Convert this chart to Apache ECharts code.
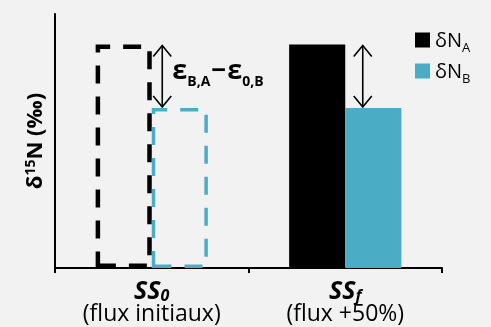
<!DOCTYPE html>
<html>
<head>
<meta charset="utf-8">
<script src="https://cdn.jsdelivr.net/npm/echarts@6/dist/echarts.min.js"></script>
<style>
html,body{margin:0;padding:0;background:#f2f2f2;}
#c{width:491px;height:327px;}
</style>
</head>
<body>
<div id="c"></div>
<script>
// ---- data ----
const categories = ['SS0', 'SSf'];
const catMain = ['SS', 'SS'];
const catSub = ['0', 'f'];
const catNote = ['(flux initiaux)', '(flux +50%)'];
const seriesNames = ['δN_A', 'δN_B'];
const valuesA = [88, 88];
const valuesB = [63, 63];
const dashedIndex = 0; // first category drawn as dashed outlines
const arrowLabels = ['ε_B,A − ε_0,B', ''];

// ---- style ----
const FONT = 'Open Sans';
const CYAN = '#4BACC6';
const arrowOffsets = [10.5, 17.5];

const chart = echarts.init(document.getElementById('c'), null, {renderer: 'canvas'});

function barData(vals, color, dash, width) {
  return vals.map((v, i) => i === dashedIndex ? {
    value: v,
    itemStyle: {color: 'rgba(0,0,0,0)', borderColor: color, borderWidth: width, borderType: dash}
  } : v);
}

function richLabel(s) {
  return s.split(' ').map(part => {
    if (part.indexOf('_') >= 0) {
      const p = part.split('_');
      return '{e|' + p[0] + '}{s|' + p[1] + '}';
    }
    return '{m|' + part + '}';
  }).join('');
}

const arrowData = categories.map((c, i) => [i, valuesA[i], valuesB[i]]);

const option = {
  backgroundColor: '#f2f2f2',
  animation: false,
  grid: {left: 55, right: 49, top: 14, bottom: 59},
  legend: {
    orient: 'vertical',
    left: 410,
    top: 26,
    itemWidth: 15,
    itemHeight: 15,
    itemGap: 7,
    icon: 'rect',
    data: [
      {name: seriesNames[0], itemStyle: {color: '#000', borderWidth: 0}},
      {name: seriesNames[1], itemStyle: {color: CYAN, borderWidth: 0}}
    ],
    formatter: n => { const p = n.split('_'); return '{m|' + p[0] + '}{s|' + p[1] + '}'; },
    textStyle: {
      fontFamily: FONT, fontSize: 20, color: '#000',
      rich: {
        m: {fontFamily: FONT, fontSize: 20, color: '#000', lineHeight: 18, verticalAlign: 'top'},
        s: {fontFamily: FONT, fontSize: 13, color: '#000', lineHeight: 12, verticalAlign: 'bottom', padding: [0, 0, -6, 0]}
      }
    }
  },
  xAxis: {
    type: 'category',
    data: categories,
    axisLine: {lineStyle: {color: '#000', width: 2}},
    axisTick: {show: true, length: 5, lineStyle: {color: '#000', width: 2}},
    axisLabel: {
      interval: 0,
      margin: 12,
      fontFamily: FONT,
      fontSize: 23,
      color: '#000',
      formatter: (v, i) => '{main|' + catMain[i] + '}{sub|' + catSub[i] + '}\n{note|' + catNote[i] + '}',
      rich: {
        main: {fontFamily: FONT, fontSize: 25, fontWeight: 'bold', fontStyle: 'italic', color: '#000', lineHeight: 24},
        sub: {fontFamily: FONT, fontSize: 16, fontWeight: 'bold', fontStyle: 'italic', color: '#000', lineHeight: 4, verticalAlign: 'bottom'},
        note: {fontFamily: FONT, fontSize: 23, color: '#000', lineHeight: 20}
      }
    }
  },
  yAxis: {
    type: 'value',
    min: 0,
    max: 100,
    axisLine: {show: true, lineStyle: {color: '#000', width: 2}},
    axisTick: {show: false},
    axisLabel: {show: false},
    splitLine: {show: false},
    name: '{a|δ}{s|15}{a|N (‰)}',
    nameLocation: 'middle',
    nameGap: 7,
    nameRotate: 90,
    nameTextStyle: {
      fontFamily: FONT, fontSize: 22, fontWeight: 'bold', color: '#000',
      rich: {
        a: {fontFamily: FONT, fontSize: 22, fontWeight: 'bold', color: '#000', lineHeight: 24},
        s: {fontFamily: FONT, fontSize: 14, fontWeight: 'bold', color: '#000', lineHeight: 14, verticalAlign: 'top'}
      }
    }
  },
  series: [
    {
      name: seriesNames[0],
      type: 'bar',
      barCategoryGap: '42%',
      barGap: '0%',
      itemStyle: {color: '#000'},
      data: barData(valuesA, '#000', [18, 13], 4.5)
    },
    {
      name: seriesNames[1],
      type: 'bar',
      barCategoryGap: '42%',
      barGap: '0%',
      itemStyle: {color: CYAN},
      data: barData(valuesB, CYAN, [18, 13], 3.5)
    },
    {
      type: 'custom',
      coordinateSystem: 'cartesian2d',
      encode: {x: 0, y: [1, 2]},
      silent: true,
      data: arrowData,
      renderItem: (params, api) => {
        const i = params.dataIndex;
        const pTop = api.coord([api.value(0), api.value(1)]);
        const pBot = api.coord([api.value(0), api.value(2)]);
        const x = pTop[0] + arrowOffsets[i];
        const y1 = pTop[1] + 1, y2 = pBot[1] - 1;
        const hw = 9, hl = 11;
        const st = {stroke: '#000', lineWidth: 1.6, fill: null};
        const children = [
          {type: 'line', shape: {x1: x, y1: y1, x2: x, y2: y2}, style: st},
          {type: 'polyline', shape: {points: [[x - hw, y1 + hl], [x, y1], [x + hw, y1 + hl]]}, style: st},
          {type: 'polyline', shape: {points: [[x - hw, y2 - hl], [x, y2], [x + hw, y2 - hl]]}, style: st}
        ];
        if (arrowLabels[i]) {
          children.push({
            type: 'text',
            style: {
              x: x + 10, y: (y1 + y2) / 2 - 5,
              text: richLabel(arrowLabels[i]),
              verticalAlign: 'middle',
              align: 'left',
              rich: {
                e: {fontFamily: FONT, fontSize: 27, fontWeight: 'bold', fill: '#000', lineHeight: 26},
                s: {fontFamily: FONT, fontSize: 14, fontWeight: 'bold', fill: '#000', lineHeight: 10, verticalAlign: 'bottom', padding: [0, 0, -5, 0]},
                m: {fontFamily: FONT, fontSize: 26, fontWeight: 'bold', fill: '#000', lineHeight: 26, padding: [0, 1, 0, 1]}
              }
            }
          });
        }
        return {type: 'group', children: children};
      }
    }
  ]
};
chart.setOption(option);
</script>
</body>
</html>
